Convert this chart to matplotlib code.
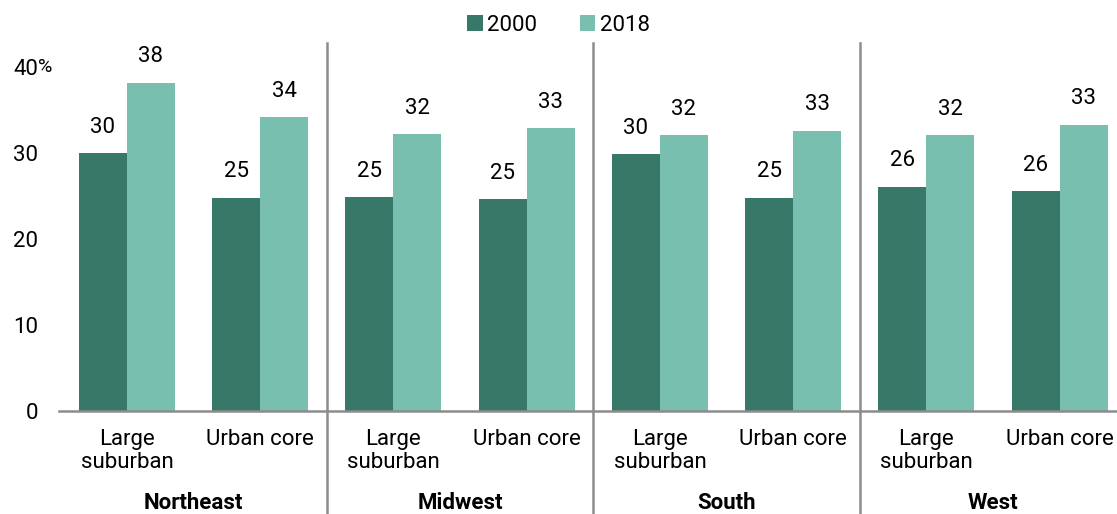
import matplotlib.pyplot as plt
import matplotlib.transforms as mtransforms
import numpy as np

plt.rcParams['font.family'] = ['Roboto', 'DejaVu Sans']

regions = ["Northeast", "Midwest", "South", "West"]
categories = ["Large\nsuburban", "Urban core"] * 4
vals_2000 = [30.0, 24.8, 24.9, 24.6, 29.9, 24.8, 26.1, 25.6]
vals_2018 = [38.2, 34.2, 32.2, 32.9, 32.1, 32.6, 32.1, 33.3]
labels_2000 = ["30", "25", "25", "25", "30", "25", "26", "26"]
labels_2018 = ["38", "34", "32", "33", "32", "33", "32", "33"]
yticks = [0, 10, 20, 30, 40]

dark = "#387868"
light = "#78bfaf"
grey = "#8c8c8c"

fig = plt.figure(figsize=(11.17, 5.14), dpi=100)
ax = fig.add_axes([59 / 1117, 103 / 514, 1 - 59 / 1117, 368 / 514])

x = np.arange(len(categories))
w = 0.36
b1 = ax.bar(x - w / 2, vals_2000, w, color=dark, label="2000")
b2 = ax.bar(x + w / 2, vals_2018, w, color=light, label="2018")

for bars, labs in [(b1, labels_2000), (b2, labels_2018)]:
    for r, t in zip(bars, labs):
        ax.annotate(t, (r.get_x() + r.get_width() / 2, r.get_height()),
                    xytext=(0, 11), textcoords="offset points",
                    ha="center", va="bottom", fontsize=16)

ax.set_xlim(-0.51, 7.43)
ax.set_ylim(0, 42.8)
ax.set_yticks(yticks)
ax.set_yticklabels([str(v) for v in yticks])
ax.tick_params(axis="y", length=0, pad=15, labelsize=16)
ax.annotate("%", (0, 40), xycoords=("axes fraction", "data"),
            xytext=(-15, 0), textcoords="offset points",
            ha="left", va="center", fontsize=14)

ax.set_xticks(x)
ax.set_xticklabels([])
ax.tick_params(axis="x", length=0)
trans = mtransforms.blended_transform_factory(ax.transData, ax.transAxes)
for xi, c in zip(x, categories):
    ax.annotate(c, (xi, 0), xycoords=trans, xytext=(0, -13),
                textcoords="offset points", ha="center", va="top",
                fontsize=16, linespacing=1.1)
for i, reg in enumerate(regions):
    ax.annotate(reg, (2 * i + 0.5, 0), xycoords=trans, xytext=(0, -58),
                textcoords="offset points", ha="center", va="top",
                fontsize=16, fontweight="bold")

for d in [1.5, 3.5, 5.5]:
    ax.axvline(d, ymin=-0.28, ymax=1, color=grey, lw=1.8, clip_on=False)

for s in ["top", "right", "left"]:
    ax.spines[s].set_visible(False)
ax.spines["bottom"].set_color(grey)
ax.spines["bottom"].set_linewidth(1.8)

fig.legend(handles=[b1, b2], loc="upper center", bbox_to_anchor=(0.5, 1.01),
           ncol=2, frameon=False, fontsize=16, handlelength=0.7,
           handleheight=0.7, handletextpad=0.2, columnspacing=1.9)

fig.savefig("out.png", dpi=100)
